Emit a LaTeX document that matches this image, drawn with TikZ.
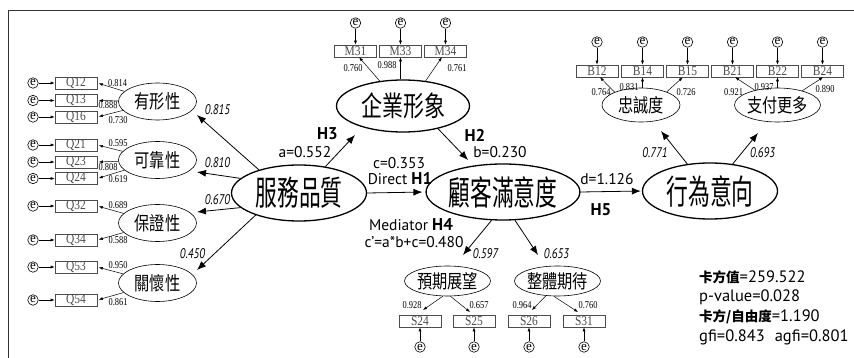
\documentclass[tikz,border=0pt]{standalone}
\usepackage{fontspec}
\setmainfont{PT Sans}
\newfontfamily\cjkmain[FakeStretch=0.64]{Noto Sans CJK TC}
\newfontfamily\cjkmid[FakeStretch=0.75]{Noto Sans CJK TC}
\newfontfamily\cjksmall[FakeStretch=0.8]{Noto Sans CJK TC}
\newfontfamily\cjkplain{Noto Sans CJK TC}
\newfontfamily\serc[FakeStretch=0.8]{Liberation Serif}
\newfontfamily\serplain{Liberation Serif}
\newfontfamily\boxfont[FakeStretch=0.85]{Liberation Serif}
\newfontfamily\sansc[FakeStretch=0.78]{PT Sans}
\usetikzlibrary{shapes.geometric,arrows.meta}
\tikzset{
 mbox/.style={draw=black!70, line width=0.6pt, minimum width=42pt, minimum height=12pt, inner sep=0pt, text=black!70, font=\boxfont\fontsize{13.5}{13.5}\selectfont},
 errc/.style={circle, draw, line width=0.6pt, minimum size=10.5pt, inner sep=0pt, font=\serplain\fontsize{13}{13}\selectfont},
 fo/.style={ellipse, draw, line width=0.6pt, minimum width=78pt, minimum height=37pt, inner sep=0pt, font=\cjksmall\fontsize{19}{19}\selectfont},
 mainl/.style={ellipse, draw, line width=1.3pt, minimum width=135pt, minimum height=56pt, inner sep=0pt, font=\cjkmain\fontsize{34}{34}\selectfont},
 ld/.style={font=\serc\fontsize{10.5}{10.5}\selectfont, inner sep=0pt},
 ild/.style={font=\sansc\itshape\fontsize{14}{14}\selectfont, inner sep=0pt},
 lbl/.style={font=\fontsize{15.5}{15.5}\selectfont, inner sep=0pt},
 fit/.style={font=\fontsize{16.5}{16.5}\selectfont, inner sep=0pt, anchor=west},
 hb/.style={font=\bfseries\fontsize{17}{17}\selectfont, inner sep=0pt},
 sarr/.style={-{Latex[length=4pt,width=3pt]}, line width=0.5pt},
 barr/.style={-{Latex[length=9pt,width=7pt]}, line width=0.8pt},
}
\begin{document}
\begin{tikzpicture}[x=1pt,y=-1pt]
\useasboundingbox (0,0) rectangle (854,358);
\draw[line width=0.9pt, black!80] (8.5,358) -- (8.5,10.5) -- (854,10.5);

% left indicators
\foreach \n/\y in {Q12/83,Q13/100.5,Q16/117,Q21/145,Q23/162,Q24/178.5,Q32/206,Q34/240,Q53/267,Q54/300} {
  \node[mbox] (\n) at (76,\y) {\n};
  \node[errc] (e\n) at (33,\y) {e};
  \draw[sarr] (e\n) -- (\n);
}
% first-order factors (left)
\node[fo] (yx) at (157.5,101.5) {有形性};
\node[fo] (kk) at (157.5,160) {可靠性};
\node[fo] (bz) at (157.5,223) {保證性};
\node[fo] (gh) at (157.5,283) {關懷性};
\foreach \f/\q in {yx/Q12,yx/Q13,yx/Q16,kk/Q21,kk/Q23,kk/Q24,bz/Q32,bz/Q34,gh/Q53,gh/Q54}
  \draw[sarr, shorten >=1.5pt] (\f) -- (\q.east);
\node[ld] at (117.5,82.7) {0.814};
\node[ld] at (108,105) {0.888};
\node[ld] at (118,120) {0.730};
\node[ld] at (118,143.3) {0.595};
\node[ld] at (108,167.3) {0.808};
\node[ld] at (118,179) {0.619};
\node[ld] at (118,205) {0.689};
\node[ld] at (118,240) {0.588};
\node[ld] at (118,265) {0.950};
\node[ld] at (118,301.7) {0.861};

% main latent variables
\node[mainl] (sq) at (299,193) {服務品質};
\node[mainl] (ca) at (503,192) {顧客滿意度};
\node[mainl] (bi) at (710,191) {行為意向};
\node[ellipse, draw, line width=1.3pt, minimum width=133pt, minimum height=52pt, inner sep=0pt, font=\cjkmid\fontsize{28}{28}\selectfont] (ci) at (403,106) {企業形象};

% second-order arrows
\coordinate (t1) at (197,115);
\coordinate (t2a) at (197,172);
\coordinate (t3a) at (197,212);
\coordinate (t4a) at (197,270);
\draw[barr] (sq.150) -- (t1);
\draw[barr] (sq.166) -- (t2a);
\draw[barr] (sq.194) -- (t3a);
\draw[barr] (sq.207) -- (t4a);
\node[ild] at (217.5,110) {0.815};
\node[ild] at (217.5,162.7) {0.810};
\node[ild] at (217.5,200) {0.670};
\node[ild] at (192.5,253.3) {0.450};

% corporate image indicators
\foreach \n/\x in {M31/355.5,M33/400.5,M34/445.5} {
  \node[mbox] (\n) at (\x,51) {\n};
  \node[errc] (e\n) at (\x,23) {e};
  \draw[sarr] (e\n) -- (\n);
}
\draw[sarr] (ci.133) -- (M31.-60);
\draw[sarr] (ci.north -| M33.south) -- (M33.south);
\draw[sarr] (ci.48) -- (M34.-120);
\node[ld] at (353,68) {0.760};
\node[ld] at (387,65) {0.988};
\node[ld] at (457,68) {0.761};

% structural paths
\coordinate (th3) at (355,135);
\coordinate (th2) at (468,160);
\draw[barr] (sq.45) -- (th3);
\draw[barr] (ci.-33) -- (th2);
\draw[barr, shorten >=3pt] (sq.east) -- (ca.west);
\draw[barr, shorten >=1pt] (ca.east) -- (bi.west);
\node[hb] at (327.5,134) {H3};
\node[lbl] at (305,151.7) {a=0.552};
\node[hb] at (475,135) {H2};
\node[lbl] at (500,151.7) {b=0.230};
\node[lbl] at (399,162.7) {c=0.353};
\node[lbl] at (400,178.3) {Direct {\bfseries\fontsize{17}{17}\selectfont H1}};
\node[lbl] at (411,225) {Mediator {\bfseries\fontsize{17}{17}\selectfont H4}};
\node[lbl] at (414,242) {c'=a*b+c=0.480};
\node[lbl] at (607,179) {d=1.126};
\node[hb] at (601,210) {H5};

% behaviour intention
\node[fo, minimum width=78pt, minimum height=34pt] (lo) at (641,105) {忠誠度};
\node[fo, minimum width=79pt, minimum height=34pt] (pay) at (777.5,105) {支付更多};
\foreach \n/\x in {B12/597,B14/642.5,B15/687.5,B21/732.5,B22/777.5,B24/822.5} {
  \node[mbox] (\n) at (\x,71) {\n};
  \node[errc] (e\n) at (\x,42) {e};
  \draw[sarr] (e\n) -- (\n);
}
\draw[sarr] (lo.154) -- (B12.-65);
\draw[sarr] (lo.north -| B14.south) -- (B14.south);
\draw[sarr] (lo.27) -- (B15.-127);
\draw[sarr] (pay.147) -- (B21.-67);
\draw[sarr] (pay.north -| B22.south) -- (B22.south);
\draw[sarr] (pay.30) -- (B24.-85);
\node[ld] at (601,91.7) {0.764};
\node[ld] at (629,87.3) {0.831};
\node[ld] at (686,91.7) {0.726};
\node[ld] at (733.5,91.7) {0.921};
\node[ld] at (764,87.3) {0.937};
\node[ld] at (825,89) {0.890};
\coordinate (tlo) at (661,131);
\coordinate (tpay) at (758,133);
\draw[barr] (bi.130) -- (tlo);
\draw[barr] (bi.50) -- (tpay);
\node[ild] at (655,152.7) {0.771};
\node[ild] at (762.5,152.7) {0.693};

% satisfaction indicators
\node[fo, minimum width=79pt, minimum height=30pt] (ex) at (447.5,281) {預期展望};
\node[fo, minimum width=79pt, minimum height=30pt] (ov) at (557.5,281) {整體期待};
\coordinate (tex) at (463,255);
\coordinate (tov) at (538,255);
\draw[barr] (ca.-112) -- (tex);
\draw[barr] (ca.-67) -- (tov);
\node[ild] at (485.5,253.3) {0.597};
\node[ild] at (556.5,253.3) {0.653};
\foreach \n/\x in {S24/420,S25/474,S26/529,S31/584} {
  \node[mbox] (\n) at (\x,321) {\n};
  \node[errc] (e\n) at (\x,347) {e};
  \draw[sarr] (e\n) -- (\n);
}
\coordinate (ts24) at (423,310);
\coordinate (ts25) at (470,312);
\coordinate (ts26) at (532,310);
\coordinate (ts31) at (578,312);
\draw[sarr] (ex.-107) -- (ts24);
\draw[sarr] (ex.-79) -- (ts25);
\draw[sarr] (ov.-128) -- (ts26);
\draw[sarr] (ov.-104) -- (ts31);
\node[ld] at (412,305) {0.928};
\node[ld] at (479,305) {0.657};
\node[ld] at (522,305) {0.964};
\node[ld] at (588,305) {0.760};

% fit indices
\node[fit] (f1) at (699,277) {{\cjkplain\bfseries\fontsize{13.5}{13.5}\selectfont 卡方值}=259.522};
\node[fit] (f2) at (699,297) {p-value=0.028};
\node[fit] (f3) at (699,317) {{\cjkplain\bfseries\fontsize{13.5}{13.5}\selectfont 卡方/自由度}=1.190};
\node[fit] (f4) at (699,337) {gfi=0.843\hspace{10pt}agfi=0.801};
\end{tikzpicture}
\end{document}
